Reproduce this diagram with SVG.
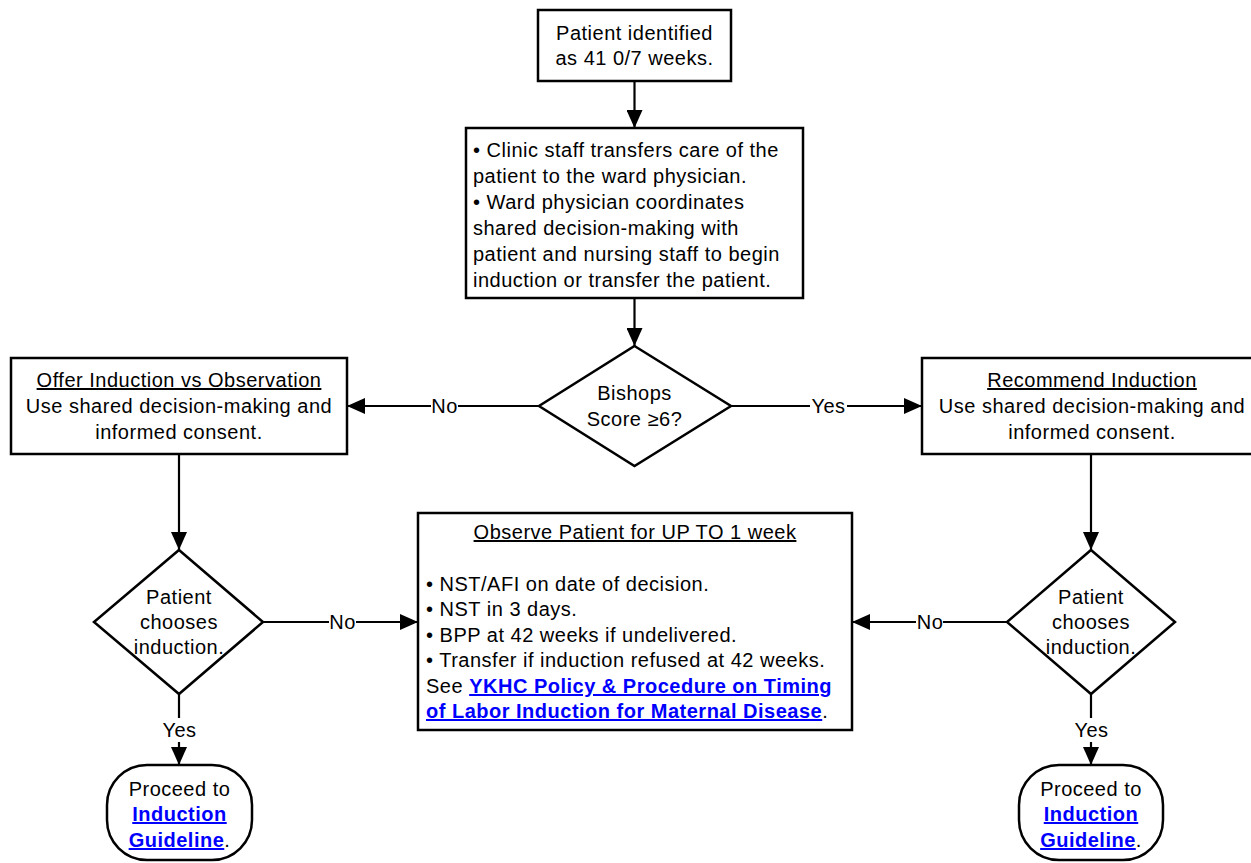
<svg xmlns="http://www.w3.org/2000/svg" width="1251" height="863" viewBox="0 0 1251 863">
<style>
text{font-family:"Liberation Sans",Arial,sans-serif;font-size:20px;fill:#000;letter-spacing:0.5px}
.c{text-anchor:middle}
.u{text-decoration:underline}
.lnk{fill:#0000ff;font-weight:bold;text-decoration:underline}
.box{fill:#fff;stroke:#000;stroke-width:2.5}
.conn{fill:none;stroke:#000;stroke-width:2.2}
.lbg{fill:#fff;stroke:none}
</style>
<defs>
<marker id="arr" viewBox="0 0 18 16" refX="18" refY="8" markerWidth="18" markerHeight="16" markerUnits="userSpaceOnUse" orient="auto">
<path d="M0,0 L18,8 L0,16 Z" fill="#000"/>
</marker>
</defs>
<rect width="1251" height="863" fill="#fff"/>

<g id="connectors">
<path class="conn" d="M634.5,81 V128" marker-end="url(#arr)"/>
<path class="conn" d="M634.5,298 V346" marker-end="url(#arr)"/>
<path class="conn" d="M539,406 H347" marker-end="url(#arr)"/>
<path class="conn" d="M731,406 H922" marker-end="url(#arr)"/>
<path class="conn" d="M179,454 V550" marker-end="url(#arr)"/>
<path class="conn" d="M1091,454 V550" marker-end="url(#arr)"/>
<path class="conn" d="M263,622 H418" marker-end="url(#arr)"/>
<path class="conn" d="M1007,622 H852" marker-end="url(#arr)"/>
<path class="conn" d="M179,694 V765" marker-end="url(#arr)"/>
<path class="conn" d="M1091,694 V765" marker-end="url(#arr)"/>
<rect class="lbg" x="431" y="396" width="27" height="20"/>
<text class="c" x="444.5" y="413">No</text>
<rect class="lbg" x="810" y="396" width="37" height="20"/>
<text class="c" x="828.5" y="413">Yes</text>
<rect class="lbg" x="329" y="612" width="27" height="20"/>
<text class="c" x="342.5" y="629">No</text>
<rect class="lbg" x="916" y="612" width="27" height="20"/>
<text class="c" x="930" y="629">No</text>
<rect class="lbg" x="161" y="718" width="37" height="24"/>
<text class="c" x="179.5" y="737">Yes</text>
<rect class="lbg" x="1073" y="718" width="37" height="24"/>
<text class="c" x="1091.5" y="737">Yes</text>
</g>

<g id="start">
<rect class="box" x="538" y="10" width="193" height="71"/>
<text class="c" x="634.5" y="40">Patient identified</text>
<text class="c" x="634.5" y="65">as 41 0/7 weeks.</text>
</g>

<g id="transfer">
<rect class="box" x="466" y="128" width="337" height="170"/>
<text x="473" y="157">• Clinic staff transfers care of the</text>
<text x="473" y="183">patient to the ward physician.</text>
<text x="473" y="209">• Ward physician coordinates</text>
<text x="473" y="235">shared decision-making with</text>
<text x="473" y="261">patient and nursing staff to begin</text>
<text x="473" y="287">induction or transfer the patient.</text>
</g>

<g id="bishops">
<polygon class="box" points="634.5,346 731,406 634.5,466 539,406"/>
<text class="c" x="634.5" y="400">Bishops</text>
<text class="c" x="634.5" y="426">Score ≥6?</text>
</g>

<g id="offer">
<rect class="box" x="11" y="358" width="336" height="96"/>
<text class="c u" x="179" y="387">Offer Induction vs Observation</text>
<text class="c" x="179" y="413">Use shared decision-making and</text>
<text class="c" x="179" y="439">informed consent.</text>
</g>

<g id="recommend">
<rect class="box" x="922" y="358" width="340" height="96"/>
<text class="c u" x="1092" y="387">Recommend Induction</text>
<text class="c" x="1092" y="413">Use shared decision-making and</text>
<text class="c" x="1092" y="439">informed consent.</text>
</g>

<g id="choose-left">
<polygon class="box" points="179,550 263,622 179,694 94,622"/>
<text class="c" x="179" y="604">Patient</text>
<text class="c" x="179" y="629">chooses</text>
<text class="c" x="179" y="654">induction.</text>
</g>

<g id="choose-right">
<polygon class="box" points="1091,550 1175,622 1091,694 1007,622"/>
<text class="c" x="1091" y="604">Patient</text>
<text class="c" x="1091" y="629">chooses</text>
<text class="c" x="1091" y="654">induction.</text>
</g>

<g id="observe">
<rect class="box" x="418" y="513" width="434" height="217"/>
<text class="c u" x="635" y="539">Observe Patient for UP TO 1 week</text>
<text x="426" y="591">• NST/AFI on date of decision.</text>
<text x="426" y="616">• NST in 3 days.</text>
<text x="426" y="642">• BPP at 42 weeks if undelivered.</text>
<text x="426" y="667">• Transfer if induction refused at 42 weeks.</text>
<text x="426" y="693">See <tspan class="lnk">YKHC Policy &amp; Procedure on Timing</tspan></text>
<text x="426" y="718"><tspan class="lnk">of Labor Induction for Maternal Disease</tspan>.</text>
</g>

<g id="proceed-left">
<rect class="box" x="107" y="765" width="145" height="95" rx="40" ry="40"/>
<text class="c" x="179.5" y="796">Proceed to</text>
<text class="c lnk" x="179.5" y="821">Induction</text>
<text class="c" x="179.5" y="847"><tspan class="lnk">Guideline</tspan>.</text>
</g>

<g id="proceed-right">
<rect class="box" x="1019" y="765" width="144" height="95" rx="40" ry="40"/>
<text class="c" x="1091" y="796">Proceed to</text>
<text class="c lnk" x="1091" y="821">Induction</text>
<text class="c" x="1091" y="847"><tspan class="lnk">Guideline</tspan>.</text>
</g>
</svg>
